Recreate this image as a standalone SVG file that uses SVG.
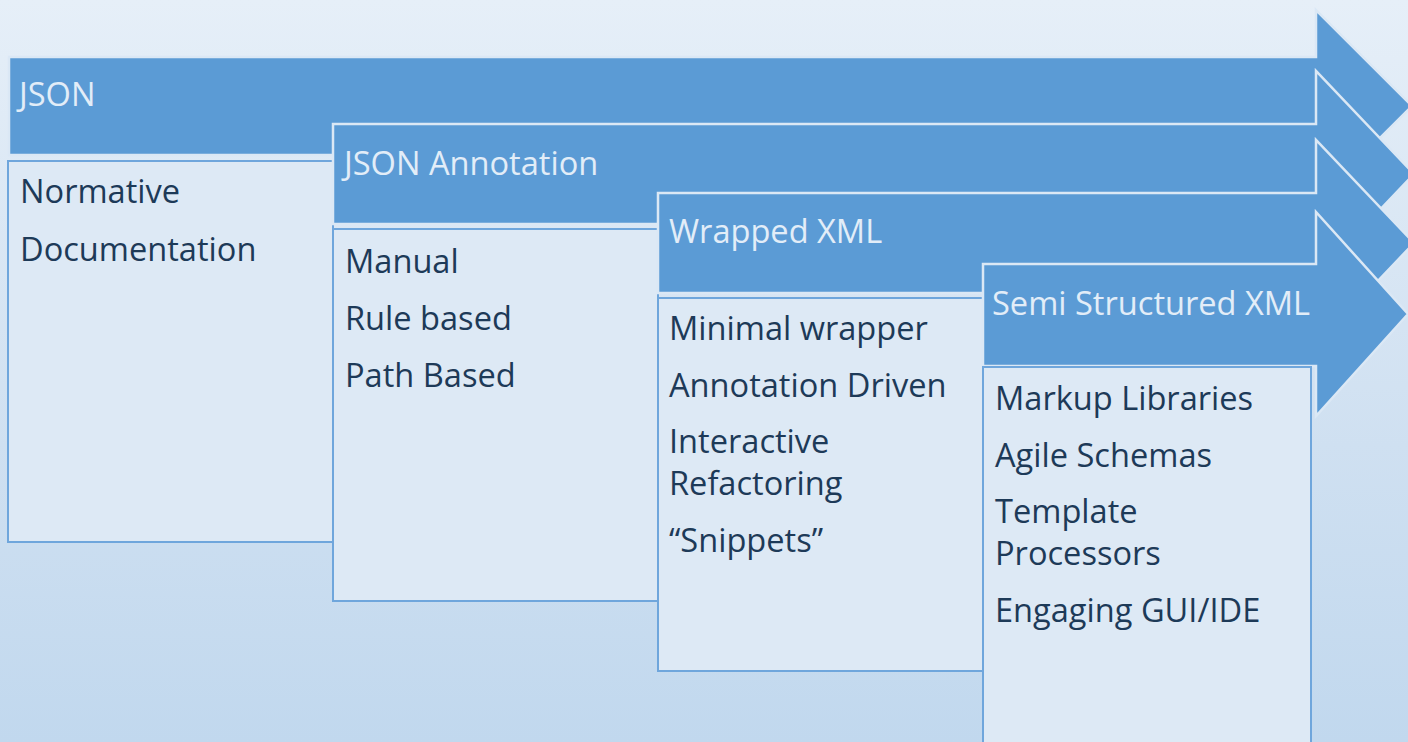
<svg xmlns="http://www.w3.org/2000/svg" width="1408" height="742" viewBox="0 0 1408 742">
<defs>
<linearGradient id="bg" x1="0" y1="0" x2="0" y2="1">
<stop offset="0" stop-color="#e6eff8"/>
<stop offset="0.6" stop-color="#cfe0f1"/>
<stop offset="1" stop-color="#c1d8ee"/>
</linearGradient>
<style>
.arrow{fill:#5b9bd5;stroke:#dbe8f5;stroke-width:2.5;stroke-linejoin:miter}
.box{fill:#dde9f5;stroke:#6fa6dc;stroke-width:2}
.hdr{font-family:"Open Sans","Liberation Sans",sans-serif;font-size:32.6px;fill:#e2edf8}
.item{font-family:"Open Sans","Liberation Sans",sans-serif;font-size:32.6px;fill:#1d3a58}
</style>
</defs>
<rect width="1408" height="742" fill="url(#bg)"/>
<g id="stage-json">
<path class="arrow" d="M9,57 H1316 V10 L1412,106 L1316,202 V155 H9 Z"/>
<text class="hdr" x="19" y="106">JSON</text>
<rect class="box" x="8" y="161" width="325" height="381"/>
<text class="item" x="20" y="203">Normative</text>
<text class="item" x="20" y="261">Documentation</text>
</g>
<g id="stage-json-annotation">
<path class="arrow" d="M333,124 H1316 V71 L1414,174 L1316,277 V224 H333 Z"/>
<text class="hdr" x="344" y="175">JSON Annotation</text>
<rect class="box" x="333" y="229" width="325" height="372"/>
<text class="item" x="345" y="273">Manual</text>
<text class="item" x="345" y="330">Rule based</text>
<text class="item" x="345" y="387">Path Based</text>
</g>
<g id="stage-wrapped-xml">
<path class="arrow" d="M658,193 H1316 V140 L1414,243 L1316,346 V293 H658 Z"/>
<text class="hdr" x="669" y="243">Wrapped XML</text>
<rect class="box" x="658" y="298" width="325" height="373"/>
<text class="item" x="669" y="340">Minimal wrapper</text>
<text class="item" x="669" y="397">Annotation Driven</text>
<text class="item" x="669" y="453">Interactive</text>
<text class="item" x="669" y="495">Refactoring</text>
<text class="item" x="669" y="552">“Snippets”</text>
</g>
<g id="stage-semi-structured-xml">
<path class="arrow" d="M983,264 H1316 V212 L1408,314 L1316,416 V366 H983 Z"/>
<text class="hdr" x="992" y="315">Semi Structured XML</text>
<rect class="box" x="983" y="367" width="328" height="390"/>
<text class="item" x="995" y="410">Markup Libraries</text>
<text class="item" x="995" y="467">Agile Schemas</text>
<text class="item" x="995" y="523">Template</text>
<text class="item" x="995" y="565">Processors</text>
<text class="item" x="995" y="622">Engaging GUI/IDE</text>
</g>
<g id="connectors"/>
</svg>
